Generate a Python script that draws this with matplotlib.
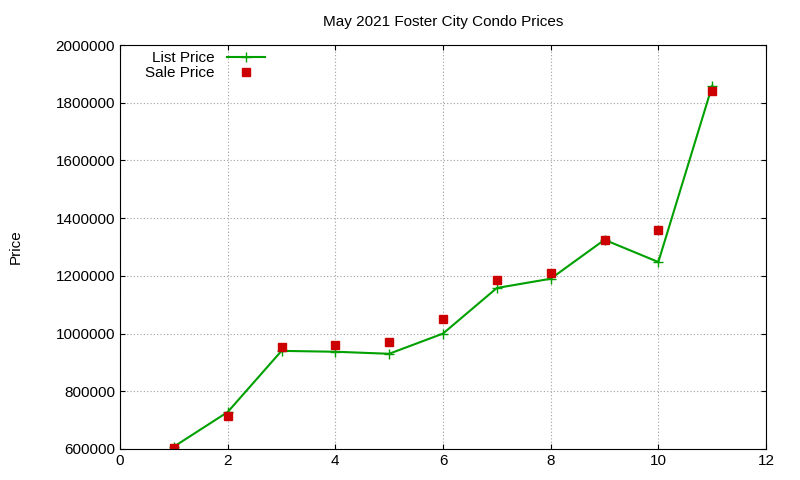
import matplotlib
matplotlib.use("Agg")
import matplotlib.pyplot as plt

x = [1, 2, 3, 4, 5, 6, 7, 8, 9, 10, 11]
list_price = [608000, 728000, 940000, 937000, 930000, 1000000, 1158000, 1190000, 1325000, 1248000, 1858000]
sale_price = [605000, 715000, 955000, 960000, 970000, 1050000, 1185000, 1210000, 1325000, 1360000, 1840000]

plt.rcParams["font.family"] = ["Liberation Sans", "DejaVu Sans"]
fig = plt.figure(figsize=(8, 4.8), dpi=100)
ax = fig.add_axes([0.15, 0.0646, 0.8075, 0.8416])

ax.plot(x, list_price, color="#00a000", marker="+", markersize=7, linewidth=1.5,
        label="List Price")
ax.plot(x, sale_price, "s", color="#cc0000", markersize=6, linestyle="none",
        label="Sale Price")

ax.set_xlim(0, 12)
ax.set_ylim(600000, 2000000)
ax.set_xticks(range(0, 13, 2))
ax.set_yticks(range(600000, 2000001, 200000))
ax.set_yticklabels([str(v) for v in range(600000, 2000001, 200000)])
ax.tick_params(labelsize=11, direction="in", top=True, right=True)
ax.grid(True, color="#a0a0a0", linestyle=(0, (1, 2)), linewidth=0.8)
ax.set_title("May 2021 Foster City Condo Prices", fontsize=11, pad=14)
ax.set_ylabel("Price", fontsize=11, labelpad=24)

ax.legend(loc="upper left", markerfirst=False, frameon=False, fontsize=11,
          handlelength=2.5, borderaxespad=0.0, labelspacing=0.05,
          bbox_to_anchor=(0.03, 1.0))

fig.savefig("out.png", dpi=100)
